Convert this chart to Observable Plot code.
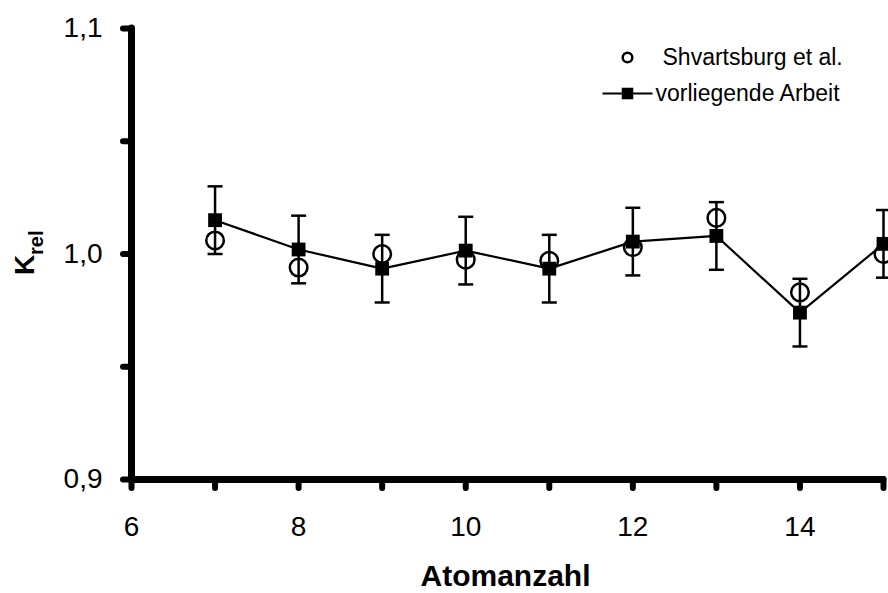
<!DOCTYPE html>
<html>
<head>
<meta charset="utf-8">
<script src="https://cdn.jsdelivr.net/npm/d3@7"></script>
<script src="https://cdn.jsdelivr.net/npm/@observablehq/plot@0.6"></script>
<style>
  html, body { margin: 0; padding: 0; background: #fff; }
  #chart svg { font-family: "Liberation Sans", Arial, sans-serif; overflow: visible; }
</style>
</head>
<body>
<div id="chart"></div>
<script>
// ---- data ----
const atoms = [7, 8, 9, 10, 11, 12, 13, 14, 15];
const present = [1.015, 1.002, 0.9935, 1.0015, 0.9935, 1.0055, 1.008, 0.974, 1.0045];
const presentErr = [0.015, 0.015, 0.015, 0.015, 0.015, 0.015, 0.015, 0.015, 0.015];
const shvartsburg = [1.006, 0.994, 1.0, 0.9975, 0.997, 1.003, 1.016, 0.983, 1.0];

const xTicks = [6, 7, 8, 9, 10, 11, 12, 13, 14, 15];
const xTickLabels = ["6", "", "8", "", "10", "", "12", "", "14", ""];
const yTicks = [0.9, 0.95, 1.0, 1.05, 1.1];
const yTickLabels = ["0,9", "", "1,0", "", "1,1"];

const seriesNames = ["Shvartsburg et al.", "vorliegende Arbeit"];
const xTitle = "Atomanzahl";
const yTitleMain = "K";
const yTitleSub = "rel";

// ---- table built from the arrays ----
const rows = atoms.map((a, i) => ({
  atoms: a,
  present: present[i],
  lo: present[i] - presentErr[i],
  hi: present[i] + presentErr[i],
  shv: shvartsburg[i]
}));

const xLabel = new Map(xTicks.map((t, i) => [t, xTickLabels[i]]));
const yLabel = new Map(yTicks.map((t, i) => [t, yTickLabels[i]]));

// horizontal bar symbol (error-bar caps, legend line)
const hbar = {
  draw(ctx, size) {
    const r = Math.sqrt(size / Math.PI);
    ctx.moveTo(-r, 0);
    ctx.lineTo(r, 0);
  }
};

const chart = Plot.plot({
  width: 888,
  height: 593,
  marginLeft: 131,
  marginRight: 5,
  marginTop: 28,
  marginBottom: 114,
  x: {domain: [6, 15]},
  y: {domain: [0.9, 1.1]},
  style: {fontFamily: "Liberation Sans, Arial, sans-serif", color: "black", background: "white"},
  marks: [
    // axis lines
    Plot.ruleX([6], {stroke: "black", strokeWidth: 7, strokeLinecap: "round"}),
    Plot.ruleY([0.9], {stroke: "black", strokeWidth: 7, strokeLinecap: "round"}),
    Plot.axisY({
      ticks: yTicks, tickFormat: (d) => yLabel.get(d), tickSize: 8, tickPadding: 21,
      strokeWidth: 6, strokeLinecap: "round", fontSize: 28, label: null
    }),
    Plot.axisX({
      ticks: xTicks, tickFormat: (d) => xLabel.get(d), tickSize: 9, tickPadding: 28,
      strokeWidth: 6, strokeLinecap: "round", fontSize: 28, label: null
    }),
    // axis titles
    Plot.text([xTitle], {frameAnchor: "bottom", dx: -2, dy: 106, lineAnchor: "bottom",
      fontSize: 30, fontWeight: "bold"}),
    Plot.text([yTitleMain], {frameAnchor: "left", dx: -98, dy: 21, rotate: -90,
      textAnchor: "start", lineAnchor: "bottom", fontSize: 28, fontWeight: "bold"}),
    Plot.text([yTitleSub], {frameAnchor: "left", dx: -89, dy: 1, rotate: -90,
      textAnchor: "start", lineAnchor: "bottom", fontSize: 20, fontWeight: "bold"}),
    // Shvartsburg circles
    Plot.dot(rows, {x: "atoms", y: "shv", r: 8.8, stroke: "black", strokeWidth: 2.5, fill: "none"}),
    // error bars
    Plot.ruleX(rows, {x: "atoms", y1: "lo", y2: "hi", stroke: "black", strokeWidth: 2.5}),
    Plot.dot(rows, {x: "atoms", y: "hi", symbol: hbar, r: 7.5, stroke: "black", strokeWidth: 2.5}),
    Plot.dot(rows, {x: "atoms", y: "lo", symbol: hbar, r: 7.5, stroke: "black", strokeWidth: 2.5}),
    // present work line + squares
    Plot.line(rows, {x: "atoms", y: "present", stroke: "black", strokeWidth: 2.2}),
    Plot.dot(rows, {x: "atoms", y: "present", symbol: "square", r: 7.8, fill: "black", stroke: "none"}),
    // legend
    Plot.dot([seriesNames[0]], {frameAnchor: "top-left", dx: 496, dy: 29, r: 4.8,
      stroke: "black", strokeWidth: 2.5, fill: "none"}),
    Plot.text([seriesNames[0]], {frameAnchor: "top-left", dx: 531, dy: 29,
      textAnchor: "start", lineAnchor: "middle", fontSize: 23}),
    Plot.dot([seriesNames[1]], {frameAnchor: "top-left", dx: 496, dy: 65, symbol: hbar, r: 25,
      stroke: "black", strokeWidth: 2.2}),
    Plot.dot([seriesNames[1]], {frameAnchor: "top-left", dx: 496, dy: 65, symbol: "square", r: 6.5,
      fill: "black", stroke: "none"}),
    Plot.text([seriesNames[1]], {frameAnchor: "top-left", dx: 524, dy: 65,
      textAnchor: "start", lineAnchor: "middle", fontSize: 23})
  ]
});

document.getElementById("chart").appendChild(chart);
</script>
</body>
</html>
